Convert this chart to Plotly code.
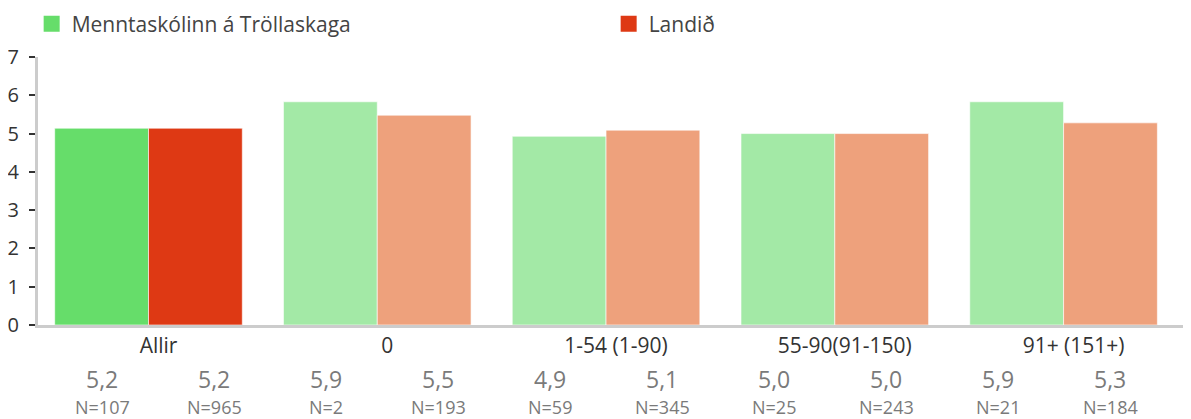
import plotly.graph_objects as go

categories = ["Allir", "0", "1-54 (1-90)", "55-90(91-150)", "91+ (151+)"]
school_name = "Menntaskólinn á Tröllaskaga"
country_name = "Landið"
school_values = [5.14, 5.83, 4.93, 5.0, 5.83]
country_values = [5.14, 5.48, 5.09, 5.0, 5.28]
school_labels = ["5,2", "5,9", "4,9", "5,0", "5,9"]
country_labels = ["5,2", "5,5", "5,1", "5,0", "5,3"]
school_n = [107, 2, 59, 25, 21]
country_n = [965, 193, 345, 243, 184]

school_colors = ["#66DD6A"] + ["#A3E9A6"] * 4
country_colors = ["#DE3914"] + ["#EEA17C"] * 4

fig = go.Figure()
fig.add_bar(x=categories, y=school_values, name=school_name,
            marker_color=school_colors,
            marker_line=dict(color="rgba(255,255,255,0.6)", width=1),
            showlegend=False, hoverinfo="skip")
fig.add_bar(x=categories, y=country_values, name=country_name,
            marker_color=country_colors,
            marker_line=dict(color="rgba(255,255,255,0.6)", width=1),
            showlegend=False, hoverinfo="skip")

# legend entries with bigger squares
for nm, col in [(school_name, school_colors[0]), (country_name, country_colors[0])]:
    fig.add_scatter(x=[None], y=[None], mode="markers", name=nm,
                    marker=dict(symbol="square", size=16, color=col))

# value and N labels under the axis, evenly spaced
labels = []
for i in range(len(categories)):
    labels.append((school_labels[i], school_n[i]))
    labels.append((country_labels[i], country_n[i]))
for k, (val, n) in enumerate(labels):
    xpos = -0.203 + k * 0.4896
    fig.add_annotation(x=xpos, xref="x", y=-0.2, yref="paper", text=val,
                       showarrow=False, yanchor="middle",
                       font=dict(size=23, color="#7a7a7a"))
    fig.add_annotation(x=xpos, xref="x", y=-0.305, yref="paper", text="N=%d" % n,
                       showarrow=False, yanchor="middle",
                       font=dict(size=18, color="#7a7a7a"))

# page body has an 8px margin, so the figure is a bit smaller
fig.update_layout(
    width=1183, height=411,
    font_family="Open Sans",
    font_color="#333",
    barmode="group",
    bargap=0.18,
    bargroupgap=0,
    plot_bgcolor="white",
    paper_bgcolor="white",
    margin=dict(l=30, r=0, t=49, b=94, autoexpand=False),
    legend=dict(orientation="h", xref="container", x=0.02, yref="container",
                y=0.961, yanchor="middle", font=dict(size=21, color="#444"),
                entrywidth=532, entrywidthmode="pixels", itemclick=False),
)

fig.update_xaxes(range=[-0.483, 4.557], showline=True, linecolor="#cccccc",
                 linewidth=3, ticks="", showgrid=False,
                 tickfont=dict(size=21, color="#333"), ticklabelshift=10)
fig.update_yaxes(range=[0, 7], dtick=1, showline=True, linecolor="#cccccc",
                 linewidth=3, ticks="outside", ticklen=6, tickwidth=1.5,
                 tickcolor="#333", showgrid=False, zeroline=False,
                 ticklabelstandoff=6, tickfont=dict(size=20, color="#333"))

fig.write_html("out.html")
